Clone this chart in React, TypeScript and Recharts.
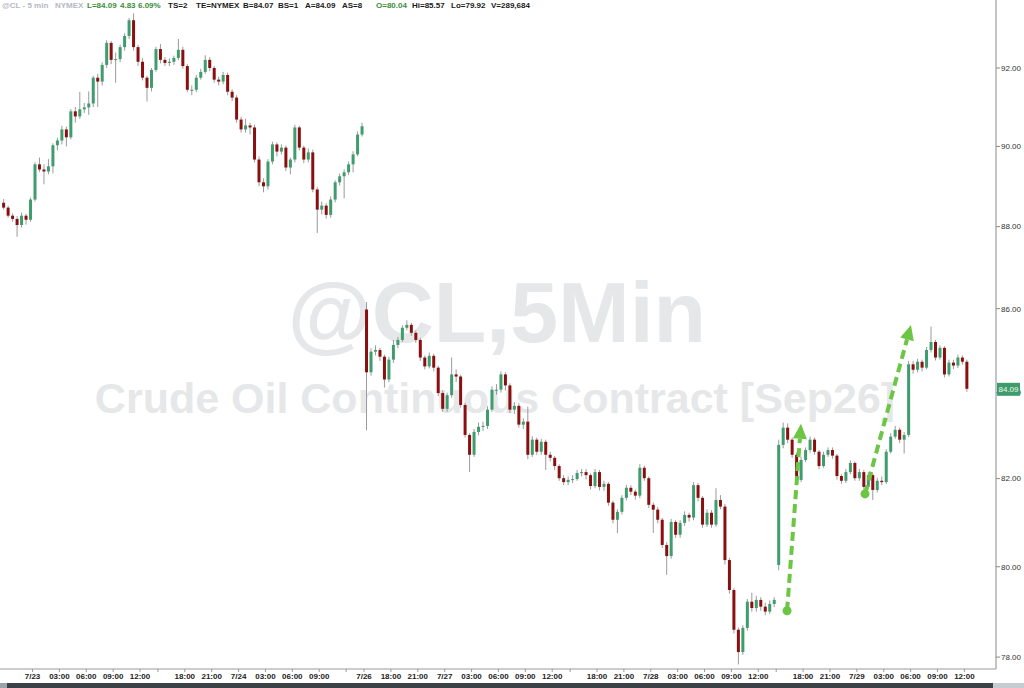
import React from "react";
import { Bar, ComposedChart, ReferenceLine, XAxis, YAxis } from "recharts";

// 30-minute candles. t = trading hours counted from 7/23 00:00 (session breaks collapsed)
const startA = -3.5;
const openA = 88.59;
const closeA = [
  88.47, 88.27, 88.19, 88.04, 88.27, 88.17, 88.67, 89.55, 89.42, 89.37,
  89.5, 90.03, 90.15, 90.43, 90.23, 90.89, 90.76, 90.94, 90.99, 91.09,
  91.75, 91.65, 92.08, 92.65, 92.21, 92.23, 92.54, 92.83, 93.24, 92.54,
  92.16, 91.75, 91.49, 91.95, 92.49, 92.21, 92.13, 92.16, 92.26, 92.47,
  92.05, 91.44, 91.44, 91.75, 91.9, 92.21, 92.0, 91.7, 91.65, 91.82,
  91.39, 91.24, 90.68, 90.43, 90.53, 90.48, 89.67, 89.1, 89.0, 89.62,
  90.05, 89.87, 89.97, 89.47, 89.67, 90.48, 89.97, 89.67, 89.85, 88.92,
  88.42, 88.52, 88.29, 88.67, 89.1, 89.25, 89.35, 89.55, 89.8, 90.3,
  90.51,
];
const highA = [
  88.68, 88.52, 88.33, 88.26, 88.35, 88.32, 88.72, 89.6, 89.72, 89.55,
  89.68, 90.08, 90.22, 90.52, 90.5, 90.95, 91.0, 91.39, 91.1, 91.4,
  91.8, 91.85, 92.15, 92.72, 92.7, 92.4, 92.6, 92.9, 93.3, 93.42,
  92.6, 92.25, 91.8, 92.0, 92.55, 92.62, 92.28, 92.25, 92.32, 92.75,
  92.55, 92.1, 91.55, 91.82, 91.98, 92.33, 92.28, 92.05, 91.78, 91.9,
  91.88, 91.45, 91.3, 90.75, 90.7, 90.6, 90.55, 89.75, 89.2, 89.68,
  90.12, 90.1, 90.05, 90.02, 89.72, 90.55, 90.52, 90.02, 89.95, 89.92,
  88.98, 88.62, 88.58, 88.75, 89.15, 89.32, 89.42, 89.62, 89.88, 90.38,
  90.6,
];
const lowA = [
  88.42, 88.22, 88.12, 87.75, 87.98, 88.05, 88.12, 88.62, 89.36, 89.05,
  89.3, 89.32, 89.9, 90.05, 90.0, 90.18, 90.6, 90.7, 90.85, 90.8,
  91.0, 91.0, 91.55, 92.0, 92.1, 91.62, 92.15, 92.45, 92.75, 92.45,
  92.05, 91.68, 91.14, 91.4, 91.9, 92.12, 92.05, 92.05, 92.08, 92.2,
  91.98, 91.38, 91.3, 91.38, 91.7, 91.85, 91.92, 91.62, 91.55, 91.58,
  91.3, 91.15, 90.6, 90.35, 90.35, 90.3, 89.6, 89.0, 88.85, 88.92,
  89.55, 89.75, 89.8, 89.38, 89.3, 89.6, 89.9, 89.58, 89.6, 88.85,
  87.84, 88.3, 88.2, 88.22, 88.6, 89.02, 88.7, 89.28, 89.35, 89.75,
  90.25,
];

const startB = 37;
const openB = 85.98;
const closeB = [
  84.48, 84.97, 85.01, 84.85, 84.31, 84.78, 85.13, 85.25, 85.54, 85.61,
  85.42, 85.25, 84.83, 84.62, 84.87, 84.59, 83.99, 83.62, 83.94, 84.43,
  84.38, 83.71, 83.01, 82.55, 83.08, 83.2, 83.22, 83.6, 84.07, 84.07,
  84.43, 84.17, 83.6, 83.69, 83.25, 83.32, 82.55, 82.9, 82.62, 82.85,
  82.55, 82.48, 82.29, 82.01, 81.92, 81.97, 81.99, 82.13, 82.15, 82.08,
  81.83, 82.15, 81.81, 81.88, 81.45, 81.06, 81.24, 81.56, 81.79, 81.7,
  81.61, 82.25, 82.01, 81.4, 81.29, 81.06, 80.49, 80.24, 81.01, 80.72,
  80.99, 81.17, 81.11, 81.85, 81.56, 80.95, 81.22, 80.95, 81.51, 81.36,
  80.15, 79.48, 78.6, 78.11, 78.64, 79.22, 79.08, 79.26, 79.11, 79.0,
  79.17, 79.26,
];
const highB = [
  86.16, 85.05, 85.12, 85.06, 84.9, 84.85, 85.25, 85.32, 85.6, 85.72,
  85.66, 85.48, 85.3, 84.88, 84.95, 84.92, 84.64, 84.05, 84.0, 84.83,
  84.55, 84.42, 83.76, 83.05, 83.15, 83.3, 83.32, 83.68, 84.15, 84.2,
  84.5, 84.48, 84.22, 83.78, 83.75, 83.4, 83.67, 82.98, 82.95, 82.92,
  82.9, 82.62, 82.52, 82.33, 82.08, 82.05, 82.08, 82.2, 82.22, 82.22,
  82.12, 82.22, 82.2, 81.95, 81.92, 81.5, 81.3, 81.62, 81.86, 81.85,
  81.75, 82.33, 82.3, 82.05, 81.45, 81.35, 81.1, 80.55, 81.08, 81.05,
  81.05, 81.25, 81.22, 81.92, 81.9, 81.6, 81.3, 81.28, 81.78, 81.62,
  81.42, 80.2, 79.52, 78.65, 78.7, 79.28, 79.42, 79.35, 79.32, 79.2,
  79.25, 79.32,
];
const lowB = [
  83.12, 84.4, 84.88, 84.75, 84.12, 84.25, 84.7, 85.05, 85.2, 85.48,
  85.35, 85.18, 84.75, 84.55, 84.57, 84.5, 83.92, 83.55, 83.55, 83.88,
  84.25, 83.65, 82.95, 82.15, 82.5, 83.0, 83.1, 83.15, 83.55, 83.95,
  84.0, 84.05, 83.52, 83.5, 83.18, 83.15, 82.45, 82.5, 82.55, 82.55,
  82.2, 82.4, 82.2, 81.95, 81.85, 81.85, 81.9, 81.95, 82.05, 81.98,
  81.75, 81.78, 81.73, 81.72, 81.38, 80.98, 80.76, 81.18, 81.5, 81.62,
  81.52, 81.55, 81.95, 81.33, 80.76, 80.98, 80.42, 79.82, 80.18, 80.65,
  80.65, 80.92, 81.02, 81.05, 81.48, 80.88, 80.9, 80.88, 80.9, 81.3,
  80.05, 79.4, 78.52, 77.84, 78.05, 78.58, 79.0, 79.0, 79.02, 78.92,
  78.95, 79.1,
];

const startC = 83;
const openC = 80.04;
const closeC = [
  82.78, 83.18, 82.9, 82.55, 81.97, 82.43, 82.66, 82.9, 82.62, 82.29,
  82.55, 82.66, 82.53, 82.06, 81.95, 82.15, 82.36, 82.01, 82.15, 81.81,
  82.08, 81.74, 81.95, 81.92, 82.62, 82.97, 83.13, 82.9, 83.01, 84.67,
  84.54, 84.73, 84.59, 85.01, 85.2, 84.83, 85.06, 84.43, 84.71, 84.64,
  84.83, 84.73, 84.09,
];
const highC = [
  82.9, 83.3, 83.28, 82.95, 82.6, 82.5, 82.72, 82.97, 82.95, 82.66,
  82.62, 82.72, 82.72, 82.57, 82.1, 82.22, 82.42, 82.4, 82.22, 82.2,
  82.15, 82.12, 82.02, 82.05, 82.68, 83.05, 83.22, 83.18, 83.08, 84.75,
  84.75, 84.8, 84.78, 85.08, 85.57, 85.25, 85.12, 85.1, 84.78, 84.78,
  84.9, 84.88, 84.78,
];
const lowC = [
  79.92, 82.7, 82.82, 82.48, 81.85, 81.92, 82.38, 82.6, 82.55, 82.22,
  82.25, 82.5, 82.46, 81.98, 81.88, 81.9, 82.1, 81.95, 81.95, 81.75,
  81.75, 81.51, 81.68, 81.85, 81.88, 82.58, 82.92, 82.82, 82.58, 82.96,
  84.45, 84.48, 84.5, 84.55, 84.95, 84.76, 84.78, 84.36, 84.38, 84.56,
  84.58, 84.66, 84.02,
];

const tickTimes = [
  0, 3, 6, 9, 12, 14, 17, 20, 23, 26, 29, 32, 35, 37, 40, 43, 46, 49, 52, 55,
  58, 60, 63, 66, 69, 72, 75, 78, 81, 83, 86, 89, 92, 95, 98, 101, 104,
];
const tickLabels = [
  "7/23", "03:00", "06:00", "09:00", "12:00", "", "18:00", "21:00", "7/24",
  "03:00", "06:00", "09:00", "", "7/26", "18:00", "21:00", "7/27", "03:00",
  "06:00", "09:00", "12:00", "", "18:00", "21:00", "7/28", "03:00", "06:00",
  "09:00", "12:00", "", "18:00", "21:00", "7/29", "03:00", "06:00", "09:00",
  "12:00",
];
const priceTicks = [78, 80, 82, 84, 86, 88, 90, 92];
const lastPrice = 84.09;

// annotation arrows: [from, to] in (t, price)
const arrowUp1 = [
  { x: 84.21, y: 79.02 },
  { x: 85.77, y: 83.27 },
];
const arrowUp2 = [
  { x: 92.91, y: 81.65 },
  { x: 98.04, y: 85.61 },
];

const headerItems: [string, number, string][] = [
  ["@CL - 5 min", 2, "#b4b8c4"],
  ["NYMEX", 55, "#b4b8c4"],
  ["L=84.09", 87, "#3b8e3b"],
  ["4.83", 120, "#3b8e3b"],
  ["6.09%", 138, "#3b8e3b"],
  ["TS=2", 168, "#1a1a1a"],
  ["TE=NYMEX", 196, "#1a1a1a"],
  ["B=84.07", 243, "#1a1a1a"],
  ["BS=1", 278, "#1a1a1a"],
  ["A=84.09", 305, "#1a1a1a"],
  ["AS=8", 342, "#1a1a1a"],
  ["O=80.04", 376, "#3b8e3b"],
  ["Hi=85.57", 412, "#1a1a1a"],
  ["Lo=79.92", 451, "#1a1a1a"],
  ["V=289,684", 491, "#1a1a1a"],
];

const X_DOMAIN = [-3.627, 107.53];
const Y_DOMAIN = [77.74, 93.77];
const UP = "#3f9c6f";
const DOWN = "#8a1010";
const WICK = "#9a9a9a";
const ARROW = "#6cc644";
const FONT = "'Liberation Sans', Arial, sans-serif";

function buildSession(start: number, open: number, close: number[], high: number[], low: number[]) {
  return close.map((c, i) => ({
    t: start + i * 0.5 + 0.25,
    open: i === 0 ? open : close[i - 1],
    high: high[i],
    low: low[i],
    close: c,
    range: [low[i], high[i]],
  }));
}

const candles = [
  ...buildSession(startA, openA, closeA, highA, lowA),
  ...buildSession(startB, openB, closeB, highB, lowB),
  ...buildSession(startC, openC, closeC, highC, lowC),
];

function CandleShape(props: any) {
  const { x, y, width, height, payload } = props;
  if (!payload || !Number.isFinite(y) || !Number.isFinite(height)) return null;
  const { open, close, high, low } = payload;
  const cx = x + width / 2;
  // y axis is logarithmic: place open/close inside the high-low span accordingly
  const span = Math.log(high) - Math.log(low);
  const toY = (p: number) => y + (height * (Math.log(high) - Math.log(p))) / span;
  const yo = toY(open);
  const yc = toY(close);
  const top = Math.min(yo, yc);
  const bh = Math.max(Math.abs(yc - yo), 1);
  return (
    <g>
      <line x1={cx} x2={cx} y1={y} y2={y + height} stroke={WICK} strokeWidth={1} />
      <rect x={cx - 1.5} y={top} width={3} height={bh} fill={close >= open ? UP : DOWN} />
    </g>
  );
}

function ArrowShape(props: any) {
  const { x1, y1, x2, y2 } = props;
  const dx = x2 - x1;
  const dy = y2 - y1;
  const len = Math.hypot(dx, dy) || 1;
  const ux = dx / len;
  const uy = dy / len;
  const bx = x2 - ux * 15;
  const by = y2 - uy * 15;
  const px = -uy * 7;
  const py = ux * 7;
  return (
    <g>
      <line x1={x1} y1={y1} x2={bx} y2={by} stroke={ARROW} strokeWidth={4} strokeDasharray="9 5" />
      <circle cx={x1} cy={y1} r={4.5} fill={ARROW} />
      <polygon points={`${x2},${y2} ${bx + px},${by + py} ${bx - px},${by - py}`} fill={ARROW} />
    </g>
  );
}

function PriceTag(props: any) {
  const vb = props.viewBox || {};
  const x = (vb.x ?? 0) + (vb.width ?? 0);
  const y = vb.y ?? 0;
  return (
    <g>
      <rect x={x + 1} y={y - 6} width={23} height={13} fill="#3f9a6c" />
      <text x={x + 12.5} y={y + 3} textAnchor="middle" fontSize={8} fill="#e8fff0" fontFamily={FONT}>
        {lastPrice.toFixed(2)}
      </text>
    </g>
  );
}

export default function App() {
  return (
    <div style={{ position: "relative", width: 1024, height: 688, background: "#fff", overflow: "hidden", fontFamily: FONT }}>
      <style>{`body{margin:0}`}</style>
      <svg width={1024} height={688} style={{ position: "absolute", left: 0, top: 0 }}>
        <text x={497} y={342} textAnchor="middle" fontSize={86} fontWeight={700} fill="#e6e7e9" fontFamily={FONT}>
          @CL,5Min
        </text>
        <text x={495} y={413} textAnchor="middle" fontSize={43} fontWeight={700} fill="#e6e7e9" fontFamily={FONT}>
          Crude Oil Continuous Contract [Sep26]
        </text>
      </svg>
      <div style={{ position: "absolute", left: 0, top: 0 }}>
        <ComposedChart width={1024} height={688} data={candles} margin={{ top: 0, right: 0, bottom: 0, left: 0 }}>
          <XAxis
            dataKey="t"
            type="number"
            domain={X_DOMAIN}
            allowDataOverflow
            ticks={tickTimes}
            interval={0}
            height={19}
            tickSize={3}
            tickMargin={1}
            stroke="#9a9a9a"
            tick={{ fontSize: 8, fontWeight: 700, fill: "#222", fontFamily: FONT }}
            tickFormatter={(v: number) => tickLabels[tickTimes.indexOf(v)] ?? ""}
          />
          <YAxis
            orientation="right"
            scale="log"
            domain={Y_DOMAIN}
            allowDataOverflow
            ticks={priceTicks}
            interval={0}
            width={28}
            tickSize={4}
            tickMargin={1}
            stroke="#8a8a8a"
            tick={{ fontSize: 8, fill: "#333", fontFamily: FONT, textAnchor: "start" }}
            tickFormatter={(v: number) => v.toFixed(2)}
          />
          <Bar dataKey="range" barSize={3} shape={CandleShape} isAnimationActive={false} />
          <ReferenceLine segment={arrowUp1} ifOverflow="visible" shape={ArrowShape} />
          <ReferenceLine segment={arrowUp2} ifOverflow="visible" shape={ArrowShape} />
        </ComposedChart>
      </div>
      {/* overlay layer with the same scales so the last-price tag sits above the axis labels */}
      <div style={{ position: "absolute", left: 0, top: 0, pointerEvents: "none" }}>
        <ComposedChart width={1024} height={688} data={candles} margin={{ top: 0, right: 28, bottom: 19, left: 0 }}>
          <XAxis dataKey="t" type="number" domain={X_DOMAIN} allowDataOverflow hide />
          <YAxis scale="log" domain={Y_DOMAIN} allowDataOverflow hide />
          <ReferenceLine y={lastPrice} stroke="none" ifOverflow="visible" label={(p: any) => <PriceTag {...p} />} />
        </ComposedChart>
      </div>
      {headerItems.map(([text, x, color]) => (
        <span
          key={text + x}
          style={{ position: "absolute", left: x, top: 1, fontSize: 8, fontWeight: 700, color, whiteSpace: "nowrap", lineHeight: "10px" }}
        >
          {text}
        </span>
      ))}
      <div style={{ position: "absolute", left: 0, top: 683, width: 7, height: 5, background: "#9aa2aa" }} />
      <div style={{ position: "absolute", left: 7, top: 683, width: 986, height: 5, background: "#3b4147" }} />
      <div style={{ position: "absolute", left: 993, top: 683, width: 31, height: 5, background: "#c7ccd1" }} />
    </div>
  );
}
